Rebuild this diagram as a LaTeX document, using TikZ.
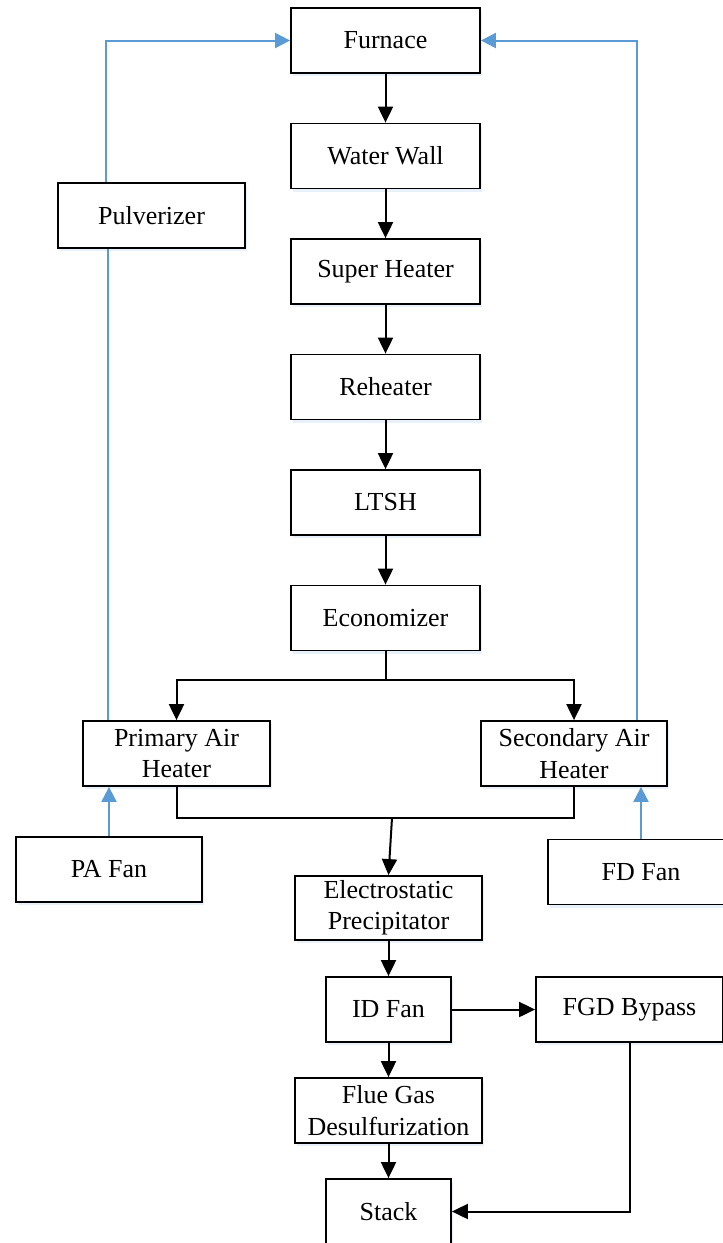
\documentclass[tikz,border=0pt]{standalone}
\usepackage{fontspec}
\setmainfont{Liberation Serif}
\usetikzlibrary{arrows.meta,shadows}
\definecolor{AirLineBlue}{RGB}{91,155,213}

\begin{document}
\begin{tikzpicture}[x=0.5pt,y=-0.5pt,blk/.style n args={2}{draw,line width=0.9pt,fill=white,minimum width=#1,minimum height=#2,inner sep=0pt,align=center,font=\fontsize{13}{15.6}\selectfont,drop shadow={shadow xshift=1pt,shadow yshift=-1.5pt,fill=AirLineBlue!35,opacity=0.4}},gas/.style={draw,line width=1pt,-{Triangle[width=7.5pt,length=8pt]}},air/.style={draw=AirLineBlue,line width=1pt,-{Triangle[width=7.5pt,length=7.5pt]}}]
    \useasboundingbox (0,0) rectangle (723,1243);
    % boiler column
    \node[blk={94.5pt}{32.5pt}](furnace) at(385.5,40.5) {Furnace};
    \node[blk={94.5pt}{32.5pt}](waterwall) at(385.5,156) {Water Wall};
    \node[blk={94.5pt}{32.5pt}](superheater) at(385.5,271.5) {Super Heater};
    \node[blk={94.5pt}{32.5pt}](reheater) at(385.5,387) {Reheater};
    \node[blk={94.5pt}{32.5pt}](ltsh) at(385.5,502.5) {LTSH};
    \node[blk={94.5pt}{32.5pt}](economizer) at(385.5,618) {Economizer};
    % air side
    \node[blk={93.5pt}{32.5pt}](pulverizer) at(151.5,215.5) {Pulverizer};
    \node[blk={93.5pt}{32.5pt}](pah) at(176.5,753.5) {Primary Air\\Heater};
    \node[blk={93pt}{32.5pt}](sah) at(574,753.5) {Secondary Air\\Heater};
    \node[blk={93pt}{32.5pt}](pafan) at(109,869.5) {PA Fan};
    \node[blk={93pt}{32.5pt}](fdfan) at(641,872) {FD Fan};
    % flue gas path
    \node[blk={93.5pt}{32pt}](esp) at(388.5,908) {Electrostatic\\Precipitator};
    \node[blk={62.5pt}{32.5pt}](idfan) at(388.5,1009.5) {ID Fan};
    \node[blk={93.5pt}{32.5pt}](bypass) at(629.5,1009.5) {FGD Bypass};
    \node[blk={93.5pt}{32.5pt}](fgd) at(388.5,1110.5) {Flue Gas\\Desulfurization};
    \node[blk={62.5pt}{32.5pt}](stack) at(388.5,1211.5) {Stack};

    \foreach \a/\b in %
    {furnace/waterwall,waterwall/superheater,superheater/reheater,reheater/ltsh,ltsh/economizer,esp/idfan,idfan/fgd,fgd/stack,idfan/bypass} {
       \draw[gas] (\a) -- (\b);
    }
    \coordinate (split) at (385.5,680);
    \coordinate (join) at (392,818);
    \draw[line width=1pt] (economizer.south) -- (split);
    \draw[gas] (split) -| (pah.north);
    \draw[gas] (split) -| (sah.north);
    \draw[line width=1pt] (pah.south) |- (join) -| (sah.south);
    \draw[gas] (join) -- (esp.north);
    \draw[gas] (bypass.south) |- (stack.east);

    \draw[air] (pafan.north) -- (pafan.north |- pah.south);
    \draw[air] (fdfan.north) -- (fdfan.north |- sah.south);
    \draw[air,-] ([xshift=13pt]pah.north west) coordinate(pahtop) -- (pahtop |- pulverizer.south);
    \draw[air] ([xshift=-23pt]pulverizer.north) |- (furnace.west);
    \draw[air] ([xshift=-15.5pt]sah.north east) |- (furnace.east);
\end{tikzpicture}
\end{document}
